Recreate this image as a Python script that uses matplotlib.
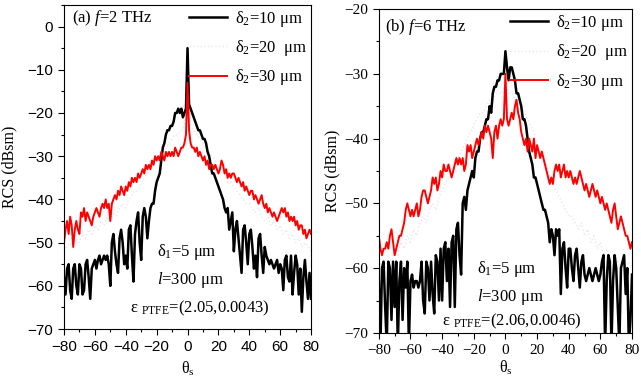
import numpy as np
import matplotlib.pyplot as plt
from matplotlib.ticker import MultipleLocator

plt.rcParams['font.family'] = 'Liberation Serif'
plt.rcParams['mathtext.fontset'] = 'custom'
plt.rcParams['mathtext.rm'] = 'Liberation Serif'
plt.rcParams['mathtext.it'] = 'Liberation Serif:italic'

# scattering angle grids (deg)
theta = np.arange(-80, 81, 1)
theta_2 = np.arange(-80, 81, 2)

# (a) f = 2 THz
rcs_a_10 = [-58, -62, -56, -55, -61, -63, -56, -55, -60, -62,
            -55, -56, -62, -61, -55, -54, -58, -63, -56, -55,
            -54, -56, -54, -53, -55, -54, -53, -54, -53, -55,
            -60, -50, -48, -52, -55, -57, -49, -47, -50, -55,
            -53, -56, -47, -46, -53, -59, -48, -45, -43, -50,
            -54, -44, -42, -44, -49, -45, -42, -41, -41, -38,
            -36, -35, -34, -31, -28, -27, -25, -24, -24, -23,
            -23, -22, -20, -20, -19, -20, -19, -21, -20, -19,
            -5,
            -18, -19, -20, -21, -22, -23, -24, -24, -25, -26,
            -26, -27, -29, -30, -32, -34, -34, -35, -36, -37,
            -38, -39, -40, -42, -43, -42, -47, -45, -43, -52,
            -47, -45, -49, -53, -57, -47, -46, -50, -55, -48,
            -47, -51, -56, -53, -58, -49, -48, -53, -57, -51,
            -53, -54, -55, -54, -55, -56, -55, -54, -57, -55,
            -56, -61, -54, -53, -58, -59, -53, -62, -57, -53,
            -55, -62, -56, -66, -58, -54, -59, -63, -57, -63]
rcs_a_30 = [-50, -47, -45, -48, -44, -46, -51, -47, -45, -47,
            -48, -43, -44, -42, -45, -43, -44, -45, -46, -44,
            -43, -42, -43, -44, -42, -41, -42, -40, -42, -41,
            -45, -41, -40, -39, -40, -38, -39, -37, -38, -39,
            -37, -38, -36, -37, -35, -36, -35, -36, -34, -35,
            -34, -33, -34, -32, -33, -32, -33, -31, -32, -30,
            -31, -30, -31, -29, -30, -31, -29, -30, -29, -30,
            -29, -30, -28, -29, -30, -29, -28, -28, -27, -25,
            -13,
            -24, -27, -28, -28, -29, -28, -30, -29, -30, -31,
            -30, -32, -31, -33, -32, -32, -33, -32, -33, -34,
            -33, -31, -32, -34, -33, -35, -34, -35, -34, -34,
            -35, -36, -35, -36, -37, -36, -38, -37, -38, -39,
            -38, -38, -40, -39, -40, -41, -40, -39, -41, -42,
            -41, -43, -42, -43, -44, -43, -44, -45, -44, -43,
            -42, -43, -42, -44, -43, -45, -44, -45, -44, -46,
            -45, -47, -46, -46, -48, -47, -49, -48, -47, -48]
rcs_a_20 = [-52, -51, -50, -51, -49, -50, -48, -49, -47, -48,
            -46, -47, -45, -46, -44, -45, -43, -44, -42, -41,
            -42, -40, -39, -38, -38, -36, -35, -34, -33, -32,
            -31, -30, -29, -28, -27, -26, -25, -25, -24, -23,
            -15,
            -23, -24, -25, -26, -27, -28, -29, -30, -31, -33,
            -33, -34, -36, -36, -37, -38, -39, -40, -41, -41,
            -42, -43, -42, -44, -45, -44, -46, -45, -47, -46,
            -48, -47, -49, -48, -50, -49, -51, -50, -51, -52]

# (b) f = 6 THz
rcs_b_10 = [-62, -72, -60, -59, -66, -72, -59, -60, -68, -59,
            -66, -59, -72, -62, -59, -68, -60, -63, -59, -72,
            -62, -61, -63, -62, -62, -63, -62, -59, -65, -67,
            -59, -60, -65, -59, -64, -67, -58, -59, -65, -57,
            -65, -57, -56, -62, -57, -66, -56, -55, -66, -54,
            -53, -58, -61, -50, -49, -51, -48, -47, -46, -45,
            -46, -43, -42, -42, -40, -39, -39, -38, -37, -37,
            -35, -36, -33, -32, -32, -31, -31, -30, -30, -30,
            -26.5,
            -29, -31, -29, -29, -30, -31, -33, -33, -34, -35,
            -37, -37, -38, -40, -42, -43, -44, -46, -46, -47,
            -48, -49, -50, -51, -51, -52, -53, -56, -54, -55,
            -58, -54, -55, -54, -64, -57, -56, -60, -63, -57,
            -57, -60, -62, -58, -57, -60, -63, -59, -58, -61,
            -62, -61, -60, -61, -62, -61, -60, -61, -62, -61,
            -59, -58, -72, -62, -58, -59, -72, -62, -58, -60,
            -66, -72, -60, -59, -58, -64, -60, -72, -68, -61]
rcs_b_30 = [-55, -57, -58, -57, -57, -56, -57, -55, -54, -56,
            -58, -57, -56, -55, -55, -54, -53, -51, -50, -51,
            -52, -51, -52, -51, -50, -52, -51, -49, -48, -48,
            -49, -50, -49, -48, -46, -47, -46, -48, -47, -45,
            -46, -44, -45, -45, -44, -45, -46, -45, -44, -43,
            -44, -43, -44, -43, -45, -44, -41, -42, -41, -43,
            -42, -41, -40, -41, -40, -39, -40, -38, -39, -38,
            -39, -40, -43, -39, -38, -40, -38, -37, -38, -37,
            -30,
            -37, -38, -37, -36, -37, -35, -34, -36, -37, -39,
            -40, -41, -40, -42, -40, -41, -42, -40, -43, -41,
            -42, -43, -42, -43, -44, -45, -46, -47, -46, -47,
            -45, -44, -45, -44, -46, -45, -44, -46, -45, -46,
            -45, -46, -47, -46, -47, -46, -45, -46, -47, -48,
            -47, -48, -49, -48, -47, -48, -49, -48, -49, -50,
            -49, -50, -51, -50, -51, -52, -53, -51, -50, -52,
            -54, -53, -52, -53, -54, -55, -55, -56, -57, -56]
rcs_b_20 = [-60, -59, -60, -58, -59, -57, -58, -56, -57, -55,
            -56, -54, -55, -53, -52, -53, -51, -50, -51, -49,
            -48, -47, -46, -46, -44, -43, -42, -41, -40, -39,
            -38, -37, -36, -36, -35, -34, -34, -33, -33, -33,
            -31,
            -33, -33, -34, -34, -35, -36, -37, -38, -39, -41,
            -42, -43, -44, -46, -47, -48, -49, -50, -51, -52,
            -52, -53, -54, -53, -55, -54, -56, -55, -57, -56,
            -58, -57, -58, -59, -58, -60, -59, -60, -59, -60]

labels = ['δ$_2$=10 μm', 'δ$_2$=20  μm', 'δ$_2$=30 μm']

fig = plt.figure(figsize=(6.41, 3.80), dpi=100)
ax1 = fig.add_axes([0.0998, 0.134, 0.3855, 0.853])
ax2 = fig.add_axes([0.591, 0.124, 0.395, 0.852])


def draw_panel(ax, y10, y20, y30, ylim, tick_font):
    ax.plot(theta_2, y20, color='#e6e6f4', lw=1.0, ls=':', label=labels[1])
    ax.plot(theta, y10, color='black', lw=1.8, label=labels[0])
    ax.plot(theta, y30, color='red', lw=1.4, label=labels[2])
    ax.set_xlim(-80, 80)
    ax.set_ylim(*ylim)
    ax.xaxis.set_major_locator(MultipleLocator(20))
    ax.xaxis.set_minor_locator(MultipleLocator(10))
    ax.yaxis.set_major_locator(MultipleLocator(10))
    ax.yaxis.set_minor_locator(MultipleLocator(5))
    ax.tick_params(which='major', direction='out', length=4.5, width=0.8)
    ax.tick_params(which='minor', direction='out', length=2.5, width=0.8)
    for lab in ax.get_xticklabels() + ax.get_yticklabels():
        lab.set_fontfamily(tick_font)
        lab.set_fontsize(11)
    for sp in ax.spines.values():
        sp.set_linewidth(0.8)
    ax.set_ylabel('RCS (dBsm)', fontsize=11.5)
    ax.set_xlabel('θ$_{\\rm s}$', fontsize=11.5)
    h, l = ax.get_legend_handles_labels()
    order = [1, 0, 2]
    ax.legend([h[i] for i in order], [l[i] for i in order], loc='upper right',
              frameon=False, fontsize=12, handlelength=2.3, handletextpad=0.45,
              labelspacing=0.55, borderaxespad=0.1, borderpad=0.15)


draw_panel(ax1, rcs_a_10, rcs_a_20, rcs_a_30, (-70, 5), 'Liberation Sans')
draw_panel(ax2, rcs_b_10, rcs_b_20, rcs_b_30, (-70, -20), 'Liberation Serif')

ax1.yaxis.set_label_coords(-0.19, 0.5)
ax1.xaxis.set_label_coords(0.5, -0.095)
ax2.yaxis.set_label_coords(-0.15, 0.5)
ax2.xaxis.set_label_coords(0.5, -0.08)

ax1.text(-75, 1.9, '(a) $f$=2 THz', fontsize=12, va='center')
ax1.text(-19.8, -52.2, 'δ$_1$=5 μm', fontsize=12, va='center')
ax1.text(-19.8, -58.7, '$l$=300 μm', fontsize=12, va='center')
ax1.text(-37.3, -65.3, 'ε $_{\\rm PTFE}$=(2.05,0.0043)', fontsize=12, va='center')

ax2.text(-76, -22.8, '(b) $f$=6 THz', fontsize=12, va='center')
ax2.text(-18, -60.1, 'δ$_1$=5 μm', fontsize=12, va='center')
ax2.text(-18, -64.4, '$l$=300 μm', fontsize=12, va='center')
ax2.text(-40.2, -68.3, 'ε $_{\\rm PTFE}$=(2.06,0.0046)', fontsize=12, va='center')

fig.savefig('out.png', dpi=100)
